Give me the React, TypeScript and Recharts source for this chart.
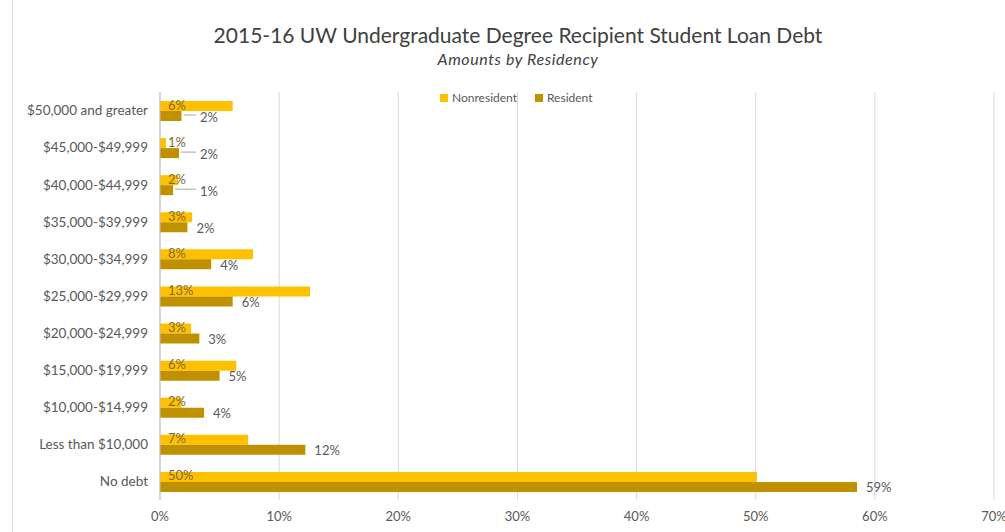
import React from 'react'
import { BarChart, Bar, XAxis, YAxis, CartesianGrid, LabelList } from 'recharts'

const categories = [
  '$50,000 and greater',
  '$45,000-$49,999',
  '$40,000-$44,999',
  '$35,000-$39,999',
  '$30,000-$34,999',
  '$25,000-$29,999',
  '$20,000-$24,999',
  '$15,000-$19,999',
  '$10,000-$14,999',
  'Less than $10,000',
  'No debt',
]
const nonresident = [6.1, 0.5, 1.5, 2.7, 7.8, 12.6, 2.6, 6.4, 1.8, 7.4, 50.1]
const resident = [1.8, 1.6, 1.1, 2.3, 4.3, 6.1, 3.3, 5.0, 3.7, 12.2, 58.5]
const xTicks = [0, 10, 20, 30, 40, 50, 60, 70]

const FONT = 'Lato, "Open Sans", sans-serif'
const GOLD = '#FFC000'
const DARK_GOLD = '#BF9000'
const GRAY = '#595959'

const data = categories.map((cat, i) => ({ cat, nonres: nonresident[i], res: resident[i] }))

const pct = (v: any) => `${Math.round(Number(v))}%`

// resident labels sit right of the bar; tiny bars get pushed out with a leader line
function ResidentLabel(props: any) {
  const { x, y, width, height, value } = props
  const end = x + width
  const cy = y + height / 2
  const shifted = Number(value) < 2
  const tx = shifted ? x + 40 : end + 9
  return (
    <g>
      {shifted && <line x1={end + 2} y1={cy - 1} x2={tx - 4} y2={cy - 1} stroke="#a6a6a6" strokeWidth={1} />}
      <text x={tx} y={cy + 1} dy="0.35em" fill={GRAY} fontSize={13} fontFamily={FONT}>
        {pct(value)}
      </text>
    </g>
  )
}

function NonresLabel(props: any) {
  const { x, y, height, value } = props
  return (
    <text x={x + 8} y={y + height / 2 - 1} dy="0.35em" fill="#7f6a2e" fontSize={13} fontFamily={FONT}>
      {pct(value)}
    </text>
  )
}

export default function App() {
  return (
    <div style={{ position: 'absolute', left: 0, top: 0, width: 1005, height: 532, background: '#fff', fontFamily: FONT, overflow: 'hidden' }}>
      <div style={{ position: 'absolute', left: 12, top: 0, bottom: 0, borderLeft: '1px solid #d9d9d9' }} />
      <div style={{ position: 'absolute', left: 0, width: 1036, top: 22, textAlign: 'center', fontSize: 21, color: '#404040' }}>
        2015-16 UW Undergraduate Degree Recipient Student Loan Debt
      </div>
      <div style={{ position: 'absolute', left: 0, width: 1036, top: 49, textAlign: 'center', fontSize: 16, fontStyle: 'italic', color: '#404040', letterSpacing: 0.6 }}>
        Amounts by Residency
      </div>
      <BarChart
        width={1005}
        height={532}
        data={data}
        layout="vertical"
        margin={{ top: 92, right: 11, bottom: 2, left: 10 }}
        barSize={10}
        barGap={0}
      >
        <CartesianGrid horizontal={false} stroke="#d9d9d9" />
        <XAxis
          type="number"
          domain={[0, 70]}
          ticks={xTicks}
          tickFormatter={(v) => `${v}%`}
          axisLine={false}
          tickLine={false}
          height={30}
          tickMargin={6}
          tick={{ fill: GRAY, fontSize: 13, fontFamily: FONT }}
          interval={0}
        />
        <YAxis
          type="category"
          dataKey="cat"
          width={150}
          axisLine={{ stroke: '#bfbfbf' }}
          tickLine={false}
          tickMargin={6}
          tick={{ fill: GRAY, fontSize: 13.5, fontFamily: FONT }}
          interval={0}
        />
        <Bar dataKey="nonres" name="Nonresident" fill={GOLD} isAnimationActive={false}>
          <LabelList dataKey="nonres" content={NonresLabel} />
        </Bar>
        <Bar dataKey="res" name="Resident" fill={DARK_GOLD} isAnimationActive={false}>
          <LabelList dataKey="res" content={ResidentLabel} />
        </Bar>
      </BarChart>
      <div style={{ position: 'absolute', top: 90, left: 440, display: 'flex', alignItems: 'center', fontSize: 12, color: GRAY }}>
        <span style={{ width: 8, height: 8, background: GOLD, marginRight: 4 }} />
        <span style={{ marginRight: 18 }}>Nonresident</span>
        <span style={{ width: 8, height: 8, background: DARK_GOLD, marginRight: 4 }} />
        <span>Resident</span>
      </div>
    </div>
  )
}
